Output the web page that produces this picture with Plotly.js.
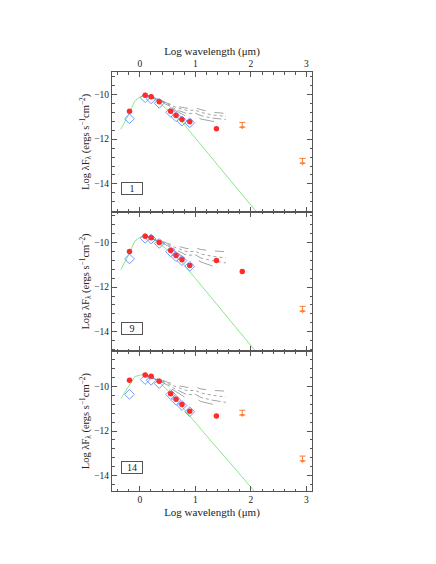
<!DOCTYPE html>
<html>
<head>
<meta charset="utf-8">
<script src="https://cdn.plot.ly/plotly-3.0.1.min.js"></script>
<style>
  html, body { margin: 0; padding: 0; background: #fff; }
  #sed { width: 436px; height: 564px; }
</style>
</head>
<body>
<div id="sed"></div>
<script>
// Photometry wavelengths (log micron)
const bandX = [-0.185, 0.097, 0.205, 0.35, 0.556, 0.653, 0.76, 0.9];
const redX1 = [-0.185, 0.097, 0.205, 0.35, 0.556, 0.653, 0.76, 0.9, 1.38];
const redX2 = [-0.185, 0.097, 0.205, 0.35, 0.556, 0.653, 0.76, 0.9, 1.38, 1.845];

// Observed fluxes (red) and dereddened (blue) per source
const red1 = [-10.75, -10.04, -10.11, -10.33, -10.75, -10.94, -11.12, -11.22, -11.53];
const blue1 = [-11.09, -10.15, -10.2, -10.4, -10.8, -11.0, -11.19, -11.27];
const red9 = [-10.41, -9.73, -9.79, -10.01, -10.37, -10.59, -10.78, -11.04, -10.81, -11.3];
const blue9 = [-10.74, -9.82, -9.85, -10.05, -10.42, -10.64, -10.82, -11.07];
const red14 = [-9.73, -9.5, -9.55, -9.78, -10.33, -10.58, -10.82, -11.12, -11.33];
const blue14 = [-10.36, -9.7, -9.73, -9.88, -10.37, -10.63, -10.86, -11.14];

// Upper limits
const ulX1 = [1.845, 2.93];
const ul1 = [-11.25, -12.86];
const ulX9 = [2.93];
const ul9 = [-12.86];
const ulX14 = [1.845, 2.93];
const ul14 = [-11.07, -13.12];

// Stellar photosphere
const starX = [-0.34, -0.2, -0.09, 0.0, 0.08, 0.2, 0.35, 0.55, 0.75, 1.0, 1.3, 1.6, 1.9, 2.1];
const star1 = [-11.56, -10.9, -10.29, -10.12, -10.04, -10.1, -10.38, -10.8, -11.2, -11.95, -12.85, -13.75, -14.65, -15.25];
const star9 = [-11.22, -10.56, -9.94, -9.78, -9.7, -9.76, -10.04, -10.46, -10.86, -11.61, -12.51, -13.41, -14.31, -14.91];
const star14 = [-10.55, -10.0, -9.57, -9.5, -9.48, -9.55, -9.82, -10.3, -10.9, -11.62, -12.5, -13.35, -14.2, -14.8];

// Disk models
const modelX = [0.1, 0.3, 0.5, 0.7, 0.85, 1.0, 1.1, 1.3, 1.55];
const models1 = [
    [-10.03, -10.15, -10.4, -10.55, -10.62, -10.6, -10.68, -10.8, -10.85],
    [-10.03, -10.17, -10.43, -10.62, -10.72, -10.7, -10.8, -10.92, -10.98],
    [-10.03, -10.2, -10.48, -10.72, -10.86, -10.84, -10.95, -11.06, -11.12],
    [-10.03, -10.22, -10.53, -10.8, -11.0, -10.98, -11.1, -11.2, -11.3],
];
const models9 = [
    [-9.72, -9.85, -10.05, -10.2, -10.28, -10.25, -10.32, -10.38, -10.42],
    [-9.72, -9.87, -10.1, -10.3, -10.42, -10.4, -10.52, -10.62, -10.7],
    [-9.72, -9.9, -10.15, -10.4, -10.58, -10.56, -10.7, -10.82, -10.92],
    [-9.72, -9.92, -10.2, -10.5, -10.75, -10.73, -10.88, -11.05, -11.18],
];
const models14 = [
    [-9.5, -9.62, -9.82, -9.98, -10.05, -10.03, -10.12, -10.18, -10.22],
    [-9.5, -9.65, -9.88, -10.08, -10.2, -10.18, -10.3, -10.4, -10.48],
    [-9.5, -9.68, -9.95, -10.2, -10.38, -10.36, -10.5, -10.62, -10.72],
    [-9.5, -9.7, -10.0, -10.3, -10.55, -10.53, -10.68, -10.8, -10.88],
];

const panelNames = ["1", "9", "14"];
const yRanges = [[-15.24, -9.0], [-14.87, -8.63], [-14.68, -8.44]];

const dashes = ["dash", "dot", "dashdot", "longdash"];
const arrowLen = 0.22;

function panelTraces(xa, ya, star, models, rx, red, blue, ulx, ul) {
    const traces = [];
    traces.push({
        x: starX, y: star, xaxis: xa, yaxis: ya, mode: 'lines',
        line: { color: '#86e886', width: 1 }
    });
    models.forEach(function (m, i) {
        traces.push({
            x: modelX, y: m, xaxis: xa, yaxis: ya, mode: 'lines',
            line: { color: '#666', width: 0.6, dash: dashes[i] }
        });
    });
    traces.push({
        x: bandX, y: blue, xaxis: xa, yaxis: ya, mode: 'markers',
        marker: { symbol: 'diamond-open', size: 7.5, color: '#6f9bff', line: { width: 1 } }
    });
    traces.push({
        x: rx, y: red, xaxis: xa, yaxis: ya, mode: 'markers',
        marker: { symbol: 'circle', size: 5.5, color: '#ff2a2a' }
    });
    traces.push({
        x: ulx, y: ul.map(v => v - arrowLen), xaxis: xa, yaxis: ya, mode: 'markers',
        marker: { symbol: 'triangle-down', size: 4, color: '#ff7a30' },
        error_y: { type: 'data', symmetric: false, array: ul.map(() => arrowLen),
            arrayminus: ul.map(() => 0), color: '#ff7a30', thickness: 1, width: 3 }
    });
    return traces;
}

const data = [].concat(
    panelTraces('x', 'y', star1, models1, redX1, red1, blue1, ulX1, ul1),
    panelTraces('x2', 'y2', star9, models9, redX2, red9, blue9, ulX9, ul9),
    panelTraces('x3', 'y3', star14, models14, redX1, red14, blue14, ulX14, ul14)
);

const fontFam = '"Liberation Serif", "DejaVu Serif", serif';
const yTitle = 'Log λF<sub>λ</sub> (ergs s<sup>−1</sup>cm<sup>−2</sup>)';

function xAxis(anchor, extra) {
    return Object.assign({
        anchor: anchor, range: [-0.5, 3.1], dtick: 1, tick0: 0,
        ticks: 'inside', ticklen: 5, tickcolor: '#555', mirror: 'ticks',
        showline: true, linecolor: '#555', linewidth: 1, showgrid: false, zeroline: false,
        minor: { dtick: 0.2, ticks: 'inside', ticklen: 2.5, tickcolor: '#555' },
        tickfont: { size: 9.5 }, showticklabels: false
    }, extra);
}

function yAxis(domain) {
    return {
        domain: domain, dtick: 2, tick0: 0,
        ticks: 'inside', ticklen: 5, tickcolor: '#555', mirror: 'ticks',
        showline: true, linecolor: '#555', linewidth: 1, showgrid: false, zeroline: false,
        minor: { dtick: 0.4, ticks: 'inside', ticklen: 2.5, tickcolor: '#555' },
        tickfont: { size: 9.5 },
        title: { text: yTitle, font: { size: 10.5 }, standoff: 2 }
    };
}

const layout = {
    width: 436, height: 564,
    margin: { l: 112, r: 124, t: 72, b: 73 },
    paper_bgcolor: '#fff', plot_bgcolor: '#fff',
    font: { family: fontFam, color: '#222', size: 9.5 },
    showlegend: false,
    xaxis: xAxis('y', { side: 'top', showticklabels: true,
        title: { text: 'Log wavelength (μm)', font: { size: 11 }, standoff: 1 } }),
    xaxis2: xAxis('y2', { matches: 'x' }),
    xaxis3: xAxis('y3', { matches: 'x', showticklabels: true,
        title: { text: 'Log wavelength (μm)', font: { size: 11 }, standoff: 3 } }),
    yaxis: Object.assign(yAxis([2 / 3, 1]), { range: yRanges[0] }),
    yaxis2: Object.assign(yAxis([1 / 3, 2 / 3]), { range: yRanges[1] }),
    yaxis3: Object.assign(yAxis([0, 1 / 3]), { range: yRanges[2] }),
    annotations: panelNames.map(function (name, i) {
        const ax = i === 0 ? '' : String(i + 1);
        return {
            text: name, xref: 'x' + ax + ' domain', yref: 'y' + ax + ' domain',
            x: 0.098, y: 0.165, xanchor: 'center', yanchor: 'middle',
            showarrow: false, width: 18, height: 9,
            bordercolor: '#555', borderwidth: 1, borderpad: 1, font: { size: 10 }
        };
    })
};

Plotly.newPlot('sed', data, layout, { staticPlot: true });
</script>
</body>
</html>
